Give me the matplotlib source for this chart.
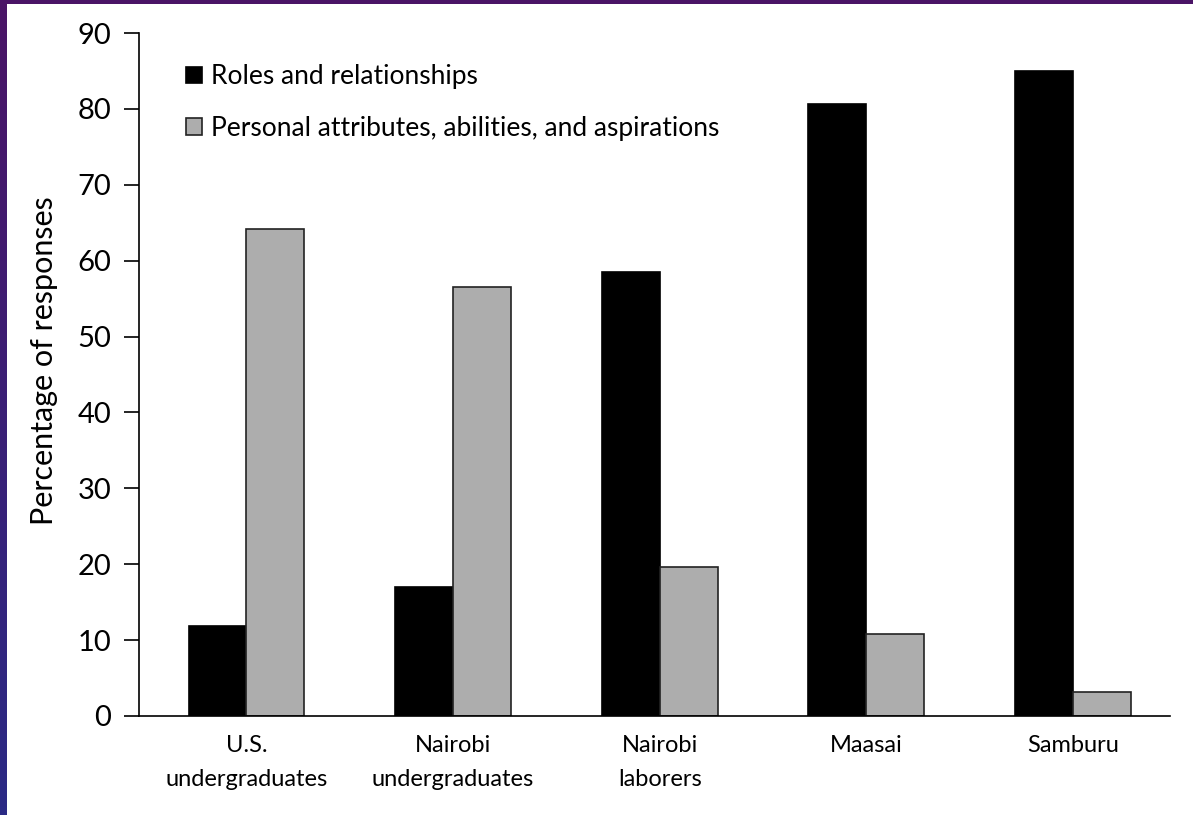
import numpy as np
import matplotlib
matplotlib.use("Agg")
import matplotlib.pyplot as plt

plt.rcParams['font.family'] = ['Lato', 'DejaVu Sans']

groups = ["U.S.\nundergraduates", "Nairobi\nundergraduates", "Nairobi\nlaborers",
          "Maasai", "Samburu"]
roles = [11.8, 17.0, 58.5, 80.6, 85.0]
personal = [64.2, 56.5, 19.6, 10.8, 3.2]
series_names = ["Roles and relationships",
                "Personal attributes, abilities, and aspirations"]

fig = plt.figure(figsize=(11.93, 8.15), dpi=100)
fig.patch.set_facecolor('white')

# purple/blue frame of the slide
edge = fig.add_axes([0, 0, 7 / 1193, 1])
grad = np.linspace(0, 1, 100).reshape(-1, 1)
edge.imshow(grad, aspect='auto', cmap=matplotlib.colors.LinearSegmentedColormap.from_list(
    'frame', ['#2b2a85', '#4a1466']), origin='lower', extent=[0, 1, 0, 1])
edge.axis('off')
top = fig.add_axes([0, 1 - 4 / 815, 1, 4 / 815])
top.axis('off')
top.add_patch(plt.Rectangle((0, 0), 1, 1, color='#4a1466', transform=top.transAxes))

ax = fig.add_axes([139 / 1193, 1 - 716 / 815, (1170 - 139) / 1193, (716 - 33) / 815])
x = np.arange(len(groups))
w = 0.28
ax.bar(x - w / 2, roles, w, color='black', edgecolor='black', linewidth=1.2,
       label=series_names[0])
ax.bar(x + w / 2, personal, w, color='#adadad', edgecolor='#222222', linewidth=1.2,
       label=series_names[1])

ax.set_xlim(-0.52, 4.47)
ax.set_ylim(0, 90)
ax.set_yticks(range(0, 91, 10))
ax.tick_params(axis='y', labelsize=21, length=11, width=1.2, direction='out', pad=9)
ax.set_xticks(x)
ax.set_xticklabels(groups, fontsize=17, linespacing=1.75)
ax.tick_params(axis='x', length=0, pad=14)
for s in ['top', 'right']:
    ax.spines[s].set_visible(False)
ax.spines['left'].set_linewidth(1.2)
ax.spines['bottom'].set_linewidth(1.2)
ax.set_ylabel("Percentage of responses", fontsize=22, labelpad=14, y=0.52)

ax.legend(loc='upper left', bbox_to_anchor=(0.025, 0.985), frameon=False, fontsize=19,
          handlelength=0.6, handleheight=0.6, handletextpad=0.35, labelspacing=1.0,
          borderpad=0.3)

fig.savefig("out.png", dpi=100, facecolor='white')
